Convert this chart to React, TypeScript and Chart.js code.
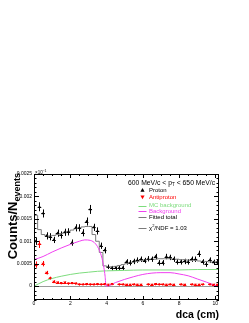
import React, { useEffect, useRef } from "react";
import { Chart, registerables } from "chart.js";

Chart.register(...registerables);

// ---------------- data ----------------
const binWidth = 0.2;
const binCenters = [
  0.1, 0.3, 0.5, 0.7, 0.9, 1.1, 1.3, 1.5, 1.7, 1.9,
  2.1, 2.3, 2.5, 2.7, 2.9, 3.1, 3.3, 3.5, 3.7, 3.9,
  4.1, 4.3, 4.5, 4.7, 4.9, 5.1, 5.3, 5.5, 5.7, 5.9,
  6.1, 6.3, 6.5, 6.7, 6.9, 7.1, 7.3, 7.5, 7.7, 7.9,
  8.1, 8.3, 8.5, 8.7, 8.9, 9.1, 9.3, 9.5, 9.7, 9.9, 10.1,
];
const protonValues = [
  0.00100, 0.00177, 0.00162, 0.00112, 0.00110, 0.00103, 0.00118, 0.00114, 0.00120, 0.00121,
  0.00097, 0.00130, 0.00130, 0.00119, 0.00144, 0.00171, 0.00131, 0.00123, 0.00090, 0.00080,
  0.00043, 0.00040, 0.00040, 0.00041, 0.00041, 0.00054, 0.00052, 0.00055, 0.00058, 0.00060,
  0.00057, 0.00061, 0.00060, 0.00066, 0.00052, 0.00052, 0.00066, 0.00064, 0.00060, 0.00054,
  0.00054, 0.00055, 0.00054, 0.00060, 0.00060, 0.00072, 0.00054, 0.00049, 0.00058, 0.00053, 0.00053,
];
const protonErrors = [
  0.00008, 0.00010, 0.00009, 0.00008, 0.00008, 0.00007, 0.00008, 0.00008, 0.00008, 0.00008,
  0.00007, 0.00008, 0.00008, 0.00008, 0.00009, 0.00010, 0.00008, 0.00008, 0.00007, 0.00007,
  0.00005, 0.00005, 0.00005, 0.00005, 0.00005, 0.00006, 0.00006, 0.00006, 0.00006, 0.00006,
  0.00006, 0.00006, 0.00006, 0.00006, 0.00006, 0.00006, 0.00006, 0.00006, 0.00006, 0.00006,
  0.00006, 0.00006, 0.00006, 0.00006, 0.00006, 0.00007, 0.00006, 0.00006, 0.00006, 0.00006, 0.00006,
];
const antiprotonValues = [
  0.00048, 0.00093, 0.00050, 0.00030, 0.00018, 0.00010, 0.00008, 0.00007, 0.00008, 0.00006,
  0.00007, 0.00006, 0.00004, 0.00004, 0.00005, 0.00004, 0.00004, 0.00005, 0.00004, 0.00005,
  0.00003, 0.00005, null, 0.00004, 0.00004, 0.00003, 0.00003, 0.00004, 0.00003, 0.00003,
  null, 0.00004, 0.00003, 0.00005, 0.00004, 0.00004, 0.00003, 0.00004, 0.00003, null,
  0.00004, 0.00003, null, 0.00004, 0.00003, 0.00003, 0.00004, null, 0.00004, 0.00003, 0.00003,
];
const antiprotonErrors = [
  0.00007, 0.00008, 0.00006, 0.00004, 0.00003, 0.00003, 0.00002, 0.00002, 0.00002, 0.00002,
  0.00002, 0.00002, 0.00002, 0.00002, 0.00002, 0.00002, 0.00002, 0.00002, 0.00002, 0.00002,
  0.00002, 0.00002, 0.00002, 0.00002, 0.00002, 0.00002, 0.00002, 0.00002, 0.00002, 0.00002,
  0.00002, 0.00002, 0.00002, 0.00002, 0.00002, 0.00002, 0.00002, 0.00002, 0.00002, 0.00002,
  0.00002, 0.00002, 0.00002, 0.00002, 0.00002, 0.00002, 0.00002, 0.00002, 0.00002, 0.00002, 0.00002,
];
const fittedTotal = [
  0.00098, 0.00158, 0.00126, 0.00115, 0.00112, 0.00112, 0.00113, 0.00115, 0.00117, 0.00120,
  0.00122, 0.00125, 0.00128, 0.00130, 0.00132, 0.00133, 0.00133, 0.00115, 0.00100, 0.00075,
  0.00045, 0.00042, 0.00043, 0.00044, 0.00046, 0.00048, 0.00050, 0.00052, 0.00054, 0.00055,
  0.00057, 0.00058, 0.00059, 0.00060, 0.00060, 0.00061, 0.00061, 0.00061, 0.00061, 0.00060,
  0.00060, 0.00059, 0.00059, 0.00058, 0.00057, 0.00057, 0.00056, 0.00055, 0.00055, 0.00054, 0.00054,
];
const backgroundX = [
  0, 0.5, 1.0, 1.5, 2.0, 2.5, 2.8, 3.1, 3.4, 3.6, 3.75, 3.85, 3.92, 3.97,
  4.0, 4.5, 5.0, 5.5, 6.0, 6.5, 7.0, 7.5, 8.0, 8.5, 9.0, 9.5, 10.0, 10.2,
];
const backgroundY = [
  0.00059, 0.00066, 0.00076, 0.00085, 0.00093, 0.00100, 0.00103, 0.00102, 0.00094, 0.00080, 0.00062, 0.00042, 0.00022, 0.0,
  0.0, 0.00008, 0.00015, 0.00021, 0.00026, 0.00029, 0.00030, 0.00030, 0.00027, 0.00023, 0.00016, 0.00009, 0.00001, -0.00003,
];
const mcBackgroundX = [0, 0.25, 0.5, 1.0, 1.5, 2.0, 2.5, 3.0, 3.5, 4.0, 5.0, 6.0, 7.0, 8.0, 9.0, 10.2];
const mcBackgroundY = [
  0, 0.00005, 0.0001, 0.00017, 0.00022, 0.00026, 0.00029, 0.00031, 0.00033, 0.00034,
  0.00035, 0.00036, 0.00036, 0.00036, 0.00037, 0.00037,
];
const yTickValues = [0, 0.0005, 0.001, 0.0015, 0.002, 0.0025];
const yTickLabels = ["0", "0.0005", "0.001", "0.0015", "0.002", "0.0025"];
const xTickValues = [0, 2, 4, 6, 8, 10];
const xTickLabels = ["0", "2", "4", "6", "8", "10"];

// ---------------- styles ----------------
const FONT = '"Liberation Sans", Arial, Helvetica, sans-serif';
const GREEN = "#7ddc7d";
const MAGENTA = "#f040f0";
const GRAY = "#7a7a7a";
const RED = "#ff0000";

function tri(ctx: CanvasRenderingContext2D, cx: number, cy: number, r: number, down: boolean, color: string) {
  ctx.fillStyle = color;
  ctx.beginPath();
  if (!down) {
    ctx.moveTo(cx, cy - r);
    ctx.lineTo(cx + r * 0.9, cy + r * 0.6);
    ctx.lineTo(cx - r * 0.9, cy + r * 0.6);
  } else {
    ctx.moveTo(cx, cy + r);
    ctx.lineTo(cx + r * 0.9, cy - r * 0.6);
    ctx.lineTo(cx - r * 0.9, cy - r * 0.6);
  }
  ctx.closePath();
  ctx.fill();
}

function seg(ctx: CanvasRenderingContext2D, x1: number, y1: number, x2: number, y2: number) {
  ctx.beginPath();
  ctx.moveTo(x1, y1);
  ctx.lineTo(x2, y2);
  ctx.stroke();
}

const rootPlugin = {
  id: "rootStyle",
  beforeDatasetsDraw(chart: any) {
    const { ctx, chartArea: a, scales } = chart;
    const xs = scales.x;
    const ys = scales.y;
    ctx.save();
    ctx.beginPath();
    ctx.rect(a.left, a.top, a.right - a.left, a.bottom - a.top);
    ctx.clip();
    // zero line
    ctx.strokeStyle = "#9a9a9a";
    ctx.lineWidth = 1;
    const y0 = Math.round(ys.getPixelForValue(0)) + 0.5;
    seg(ctx, a.left, y0, a.right, y0);
    // error bars
    const series = [
      { v: protonValues, e: protonErrors, c: "#000" },
      { v: antiprotonValues, e: antiprotonErrors, c: RED },
    ];
    for (const s of series) {
      ctx.strokeStyle = s.c;
      ctx.lineWidth = 1;
      s.v.forEach((val: number | null, i: number) => {
        if (val === null) return;
        const cx = Math.round(xs.getPixelForValue(binCenters[i])) + 0.5;
        const cy = Math.round(ys.getPixelForValue(val)) + 0.5;
        const l = xs.getPixelForValue(binCenters[i] - binWidth / 2);
        const r = xs.getPixelForValue(binCenters[i] + binWidth / 2);
        const t = ys.getPixelForValue(val + s.e[i]);
        const b = ys.getPixelForValue(val - s.e[i]);
        seg(ctx, cx, t, cx, b);
        seg(ctx, l, cy, r, cy);
      });
    }
    ctx.restore();
  },
  afterDraw(chart: any) {
    const { ctx, chartArea: a, scales } = chart;
    const xs = scales.x;
    const ys = scales.y;
    ctx.save();
    ctx.strokeStyle = "#000";
    ctx.lineWidth = 1;
    ctx.strokeRect(a.left + 0.5, a.top + 0.5, a.right - a.left - 1, a.bottom - a.top - 1);

    // x ticks (inside, bottom and top)
    for (let k = 0; k <= 20; k++) {
      const v = k * 0.5;
      if (v > xs.max) break;
      const px = Math.round(xs.getPixelForValue(v)) + 0.5;
      const len = k % 4 === 0 ? 4 : 2;
      seg(ctx, px, a.bottom, px, a.bottom - len);
      seg(ctx, px, a.top, px, a.top + len);
    }
    // y ticks (inside, left and right)
    for (let k = -3; k <= 25; k++) {
      const v = k * 0.0001;
      if (v < ys.min) continue;
      const py = Math.round(ys.getPixelForValue(v)) + 0.5;
      const len = k % 5 === 0 ? 5 : 2.5;
      seg(ctx, a.left, py, a.left + len, py);
      seg(ctx, a.right, py, a.right - len, py);
    }

    // tick labels
    ctx.fillStyle = "#000";
    ctx.font = `5px ${FONT}`;
    ctx.textAlign = "right";
    ctx.textBaseline = "middle";
    yTickValues.forEach((v, i) => {
      ctx.fillText(yTickLabels[i], a.left - 2, ys.getPixelForValue(v));
    });
    ctx.textAlign = "center";
    ctx.textBaseline = "top";
    xTickValues.forEach((v, i) => {
      ctx.fillText(xTickLabels[i], xs.getPixelForValue(v), a.bottom + 1);
    });
    // exponent marker
    ctx.textAlign = "left";
    ctx.textBaseline = "alphabetic";
    ctx.font = `4.5px ${FONT}`;
    ctx.fillText("×10", a.left + 1, a.top - 0.5);
    ctx.font = `3.5px ${FONT}`;
    ctx.fillText("−1", a.left + 8.5, a.top - 2.5);

    // x title
    ctx.font = `bold 10.5px ${FONT}`;
    ctx.textAlign = "right";
    ctx.textBaseline = "alphabetic";
    ctx.fillText("dca (cm)", a.right, 318);

    // y title (rotated)
    ctx.save();
    ctx.translate(17, 173);
    ctx.rotate(-Math.PI / 2);
    ctx.textAlign = "left";
    ctx.font = `bold 13px ${FONT}`;
    const mainW = ctx.measureText("Counts/N").width;
    ctx.font = `bold 9px ${FONT}`;
    const subW = ctx.measureText("events").width;
    const start = -(mainW + subW);
    ctx.font = `bold 13px ${FONT}`;
    ctx.fillText("Counts/N", start, 0);
    ctx.font = `bold 9px ${FONT}`;
    ctx.fillText("events", start + mainW, 3);
    ctx.restore();

    // legend header
    ctx.fillStyle = "#000";
    ctx.textBaseline = "middle";
    ctx.textAlign = "left";
    const hdrParts = [
      { t: "600 MeV/c < p", f: 6.8, dy: 0 },
      { t: "T", f: 4.7, dy: 1.5 },
      { t: " < 650 MeV/c", f: 6.8, dy: 0 },
    ];
    let hw = 0;
    hdrParts.forEach((p) => {
      ctx.font = `${p.f}px ${FONT}`;
      hw += ctx.measureText(p.t).width;
    });
    let hx = 171.5 - hw / 2;
    hdrParts.forEach((p) => {
      ctx.font = `${p.f}px ${FONT}`;
      ctx.fillText(p.t, hx, 183.5 + p.dy);
      hx += ctx.measureText(p.t).width;
    });

    // legend entries
    const textX = 149;
    ctx.font = `6px ${FONT}`;
    tri(ctx, 142.5, 190.4, 2.3, false, "#000");
    ctx.fillStyle = "#000";
    ctx.fillText("Proton", textX, 190.3);
    tri(ctx, 142.5, 197.0, 2.3, true, RED);
    ctx.fillStyle = RED;
    ctx.fillText("Antiproton", textX, 197.2);

    const lineEntries = [
      { y: 205.5, c: GREEN, tc: GREEN, t: "MC background" },
      { y: 211.2, c: MAGENTA, tc: MAGENTA, t: "Background" },
      { y: 216.9, c: GRAY, tc: "#000", t: "Fitted total" },
    ];
    lineEntries.forEach((e) => {
      ctx.strokeStyle = e.c;
      ctx.lineWidth = 1;
      seg(ctx, 138.5, Math.round(e.y) + 0.5, 146.5, Math.round(e.y) + 0.5);
      ctx.fillStyle = e.tc;
      ctx.fillText(e.t, textX, e.y);
    });
    ctx.strokeStyle = GRAY;
    seg(ctx, 138.5, 228.5, 146.5, 228.5);
    ctx.fillStyle = "#000";
    let cx = textX;
    ctx.font = `6px ${FONT}`;
    ctx.fillText("χ", cx, 228);
    cx += ctx.measureText("χ").width;
    ctx.font = `4px ${FONT}`;
    ctx.fillText("2", cx, 226);
    cx += ctx.measureText("2").width;
    ctx.font = `6px ${FONT}`;
    ctx.fillText("/NDF = 1.03", cx, 228);

    ctx.restore();
  },
};

export default function App() {
  const ref = useRef<HTMLCanvasElement | null>(null);
  useEffect(() => {
    document.body.style.margin = "0";
    const canvas = ref.current;
    if (!canvas) return;
    const fitPoints = binCenters.map((c, i) => ({ x: c - binWidth / 2, y: fittedTotal[i] }));
    fitPoints.push({
      x: binCenters[binCenters.length - 1] + binWidth / 2,
      y: fittedTotal[fittedTotal.length - 1],
    });
    const chart = new Chart(canvas, {
      type: "line",
      data: {
        datasets: [
          {
            label: "Proton",
            data: binCenters.map((c, i) => ({ x: c, y: protonValues[i] })),
            showLine: false,
            pointStyle: "triangle",
            pointRadius: 1.8,
            pointBackgroundColor: "#000",
            pointBorderWidth: 0,
            order: 0,
          },
          {
            label: "Antiproton",
            data: binCenters.map((c, i) => ({ x: c, y: antiprotonValues[i] })),
            showLine: false,
            pointStyle: "triangle",
            pointRotation: 180,
            pointRadius: 1.8,
            pointBackgroundColor: RED,
            pointBorderWidth: 0,
            order: 1,
          },
          {
            label: "Background",
            data: backgroundX.map((x, i) => ({ x, y: backgroundY[i] })),
            borderColor: MAGENTA,
            borderWidth: 1,
            pointRadius: 0,
            cubicInterpolationMode: "monotone",
            order: 2,
          },
          {
            label: "MC background",
            data: mcBackgroundX.map((x, i) => ({ x, y: mcBackgroundY[i] })),
            borderColor: GREEN,
            borderWidth: 1,
            pointRadius: 0,
            cubicInterpolationMode: "monotone",
            order: 3,
          },
          {
            label: "Fitted total",
            data: fitPoints,
            borderColor: GRAY,
            borderWidth: 1,
            pointRadius: 0,
            stepped: "after",
            order: 4,
          },
        ],
      },
      options: {
        responsive: false,
        devicePixelRatio: 1,
        animation: false,
        layout: { padding: { left: 34, top: 174, right: 30, bottom: 23 } },
        scales: {
          x: { type: "linear", min: 0, max: 10.2, display: false },
          y: { type: "linear", min: -0.00031, max: 0.0025, display: false },
        },
        plugins: {
          legend: { display: false },
          tooltip: { enabled: false },
        },
        events: [],
      } as any,
      plugins: [rootPlugin],
    } as any);
    return () => chart.destroy();
  }, []);
  return (
    <canvas
      ref={ref}
      width={249}
      height={323}
      style={{ display: "block", width: 249, height: 323 }}
    />
  );
}
